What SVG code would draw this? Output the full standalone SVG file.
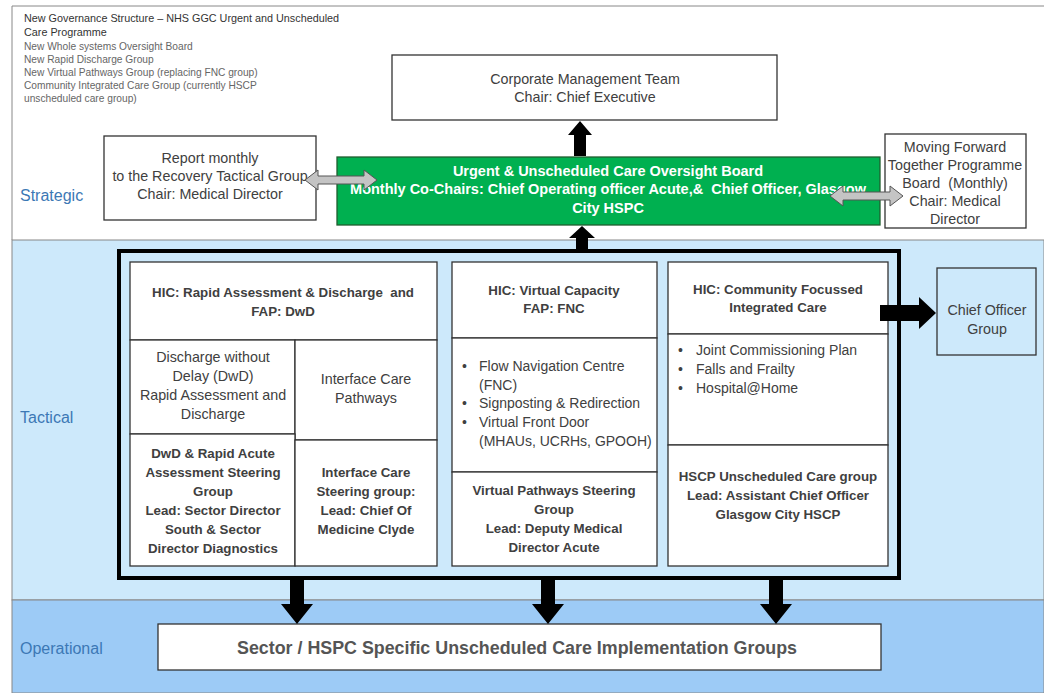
<svg xmlns="http://www.w3.org/2000/svg" width="1044" height="693" viewBox="0 0 1044 693">
<style>
text{font-family:"Liberation Sans",Arial,sans-serif;fill:#404040}
.box{fill:#fff;stroke:#333;stroke-width:1.3}
.t{font-size:14.3px;text-anchor:middle}
.b{font-size:13.3px;font-weight:bold;text-anchor:middle}
.w{font-size:14.5px;font-weight:bold;text-anchor:middle;fill:#fff}
.n{font-size:10.2px;fill:#666}
.n1{font-size:10.8px;fill:#333}
.lab{font-size:16px;fill:#3c78b5}
.li{font-size:14px}
.blk{fill:#000}
.gra{fill:#c4c4c4;stroke:#555;stroke-width:1}
</style>
<rect x="0" y="0" width="1044" height="693" fill="#fff"/>
<rect x="12" y="240" width="1032" height="360" fill="#cde9fb" stroke="#888" stroke-width="1"/>
<rect x="12" y="600" width="1032" height="93" fill="#9dcbf6" stroke="#888" stroke-width="1"/>
<line x1="12" y1="6" x2="12" y2="240" stroke="#888" stroke-width="1"/>
<line x1="12" y1="6" x2="1044" y2="6" stroke="#888" stroke-width="1"/>

<g id="intro">
<text class="n1" x="24" y="22">New Governance Structure – NHS GGC Urgent and Unscheduled</text>
<text class="n1" x="24" y="36">Care Programme</text>
<text class="n" x="24" y="50">New Whole systems Oversight Board</text>
<text class="n" x="24" y="63">New Rapid Discharge Group</text>
<text class="n" x="24" y="76">New Virtual Pathways Group (replacing FNC group)</text>
<text class="n" x="24" y="89">Community Integrated Care Group (currently HSCP</text>
<text class="n" x="24" y="102">unscheduled care group)</text>
</g>

<g id="labels">
<text class="lab" x="20" y="201">Strategic</text>
<text class="lab" x="20" y="423">Tactical</text>
<text class="lab" x="20" y="654">Operational</text>
</g>

<g id="cmt">
<rect class="box" x="392" y="55" width="385" height="65"/>
<text class="t" x="585" y="84">Corporate Management Team</text>
<text class="t" x="585" y="102">Chair: Chief Executive</text>
</g>

<g id="report">
<rect class="box" x="104" y="136" width="212" height="84"/>
<text class="t" x="210" y="163">Report monthly</text>
<text class="t" x="210" y="181">to the Recovery Tactical Group</text>
<text class="t" x="210" y="199">Chair: Medical Director</text>
</g>

<g id="oversight">
<rect x="337" y="157" width="543" height="68" fill="#00b050" stroke="#1f5f2f" stroke-width="1.3"/>
<text class="w" x="608" y="176">Urgent &amp; Unscheduled Care Oversight Board</text>
<text class="w" x="608" y="194" xml:space="preserve">Monthly Co-Chairs: Chief Operating officer Acute,&amp;  Chief Officer, Glasgow</text>
<text class="w" x="608" y="213">City HSPC</text>
</g>

<g id="mft">
<rect class="box" x="885" y="134" width="141" height="94"/>
<text class="t" x="955" y="152">Moving Forward</text>
<text class="t" x="955" y="170">Together Programme</text>
<text class="t" x="955" y="188" xml:space="preserve">Board  (Monthly)</text>
<text class="t" x="955" y="206">Chair: Medical</text>
<text class="t" x="955" y="224">Director</text>
</g>

<g id="frame">
<rect x="119" y="251" width="780" height="327" fill="none" stroke="#000" stroke-width="4"/>
</g>

<g id="col1">
<rect class="box" x="130" y="262" width="307" height="78"/>
<text class="b" x="283" y="297" xml:space="preserve">HIC: Rapid Assessment &amp; Discharge  and</text>
<text class="b" x="283" y="316">FAP: DwD</text>
<rect class="box" x="130" y="340" width="165" height="94"/>
<text class="t" x="213" y="362">Discharge without</text>
<text class="t" x="213" y="381">Delay (DwD)</text>
<text class="t" x="213" y="400">Rapid Assessment and</text>
<text class="t" x="213" y="419">Discharge</text>
<rect class="box" x="295" y="340" width="142" height="100"/>
<text class="t" x="366" y="384">Interface Care</text>
<text class="t" x="366" y="403">Pathways</text>
<rect class="box" x="130" y="434" width="165" height="132" stroke-width="2"/>
<text class="b" x="213" y="458">DwD &amp; Rapid Acute</text>
<text class="b" x="213" y="477">Assessment Steering</text>
<text class="b" x="213" y="496">Group</text>
<text class="b" x="213" y="515">Lead: Sector Director</text>
<text class="b" x="213" y="534">South &amp; Sector</text>
<text class="b" x="213" y="553">Director Diagnostics</text>
<rect class="box" x="295" y="440" width="142" height="126"/>
<text class="b" x="366" y="477">Interface Care</text>
<text class="b" x="366" y="496">Steering group:</text>
<text class="b" x="366" y="515">Lead: Chief Of</text>
<text class="b" x="366" y="534">Medicine Clyde</text>
</g>

<g id="col2">
<rect class="box" x="452" y="262" width="205" height="76"/>
<text class="b" x="554" y="295">HIC: Virtual Capacity</text>
<text class="b" x="554" y="313">FAP: FNC</text>
<rect class="box" x="452" y="338" width="205" height="134"/>
<text class="li" x="462" y="371">•</text>
<text class="li" x="479" y="371">Flow Navigation Centre</text>
<text class="li" x="479" y="390">(FNC)</text>
<text class="li" x="462" y="408">•</text>
<text class="li" x="479" y="408">Signposting &amp; Redirection</text>
<text class="li" x="462" y="427">•</text>
<text class="li" x="479" y="427">Virtual Front Door</text>
<text class="li" x="479" y="446">(MHAUs, UCRHs, GPOOH)</text>
<rect class="box" x="452" y="472" width="205" height="94"/>
<text class="b" x="554" y="495">Virtual Pathways Steering</text>
<text class="b" x="554" y="514">Group</text>
<text class="b" x="554" y="533">Lead: Deputy Medical</text>
<text class="b" x="554" y="552">Director Acute</text>
</g>

<g id="col3">
<rect class="box" x="668" y="262" width="220" height="72"/>
<text class="b" x="778" y="294">HIC: Community Focussed</text>
<text class="b" x="778" y="312">Integrated Care</text>
<rect class="box" x="668" y="334" width="220" height="111"/>
<text class="li" x="678" y="355">•</text>
<text class="li" x="696" y="355">Joint Commissioning Plan</text>
<text class="li" x="678" y="374">•</text>
<text class="li" x="696" y="374">Falls and Frailty</text>
<text class="li" x="678" y="393">•</text>
<text class="li" x="696" y="393">Hospital@Home</text>
<rect class="box" x="668" y="445" width="220" height="121" stroke-width="2"/>
<text class="b" x="778" y="481">HSCP Unscheduled Care group</text>
<text class="b" x="778" y="500">Lead: Assistant Chief Officer</text>
<text class="b" x="778" y="519">Glasgow City HSCP</text>
</g>

<g id="chief">
<rect x="937" y="268" width="99" height="87" fill="#cde9fb" stroke="#333" stroke-width="1.3"/>
<text class="t" x="987" y="315">Chief Officer</text>
<text class="t" x="987" y="334">Group</text>
</g>

<g id="operational">
<rect class="box" x="158" y="624" width="723" height="46"/>
<text x="517" y="654" textLength="560" lengthAdjust="spacingAndGlyphs" style="font-size:17.5px;font-weight:bold;text-anchor:middle;fill:#555">Sector / HSPC Specific Unscheduled Care Implementation Groups</text>
</g>

<g id="connectors">
<polygon class="blk" points="574,156 574,135 568,135 580,121 592,135 586,135 586,156"/>
<polygon class="blk" points="576,251 576,238 569,238 582,226 595,238 588,238 588,251"/>
<polygon class="gra" points="305,180 318,170 318,176 364,176 364,170 377,180 364,190 364,184 318,184 318,190"/>
<polygon class="gra" points="830,196 843,186 843,192 890,192 890,186 903,196 890,206 890,200 843,200 843,206"/>
<polygon class="blk" points="880,305 919,305 919,297 936,313 919,329 919,321 880,321"/>
<polygon class="blk" points="290,580 304,580 304,604 313,604 297,624 281,604 290,604"/>
<polygon class="blk" points="541,580 555,580 555,604 564,604 548,624 532,604 541,604"/>
<polygon class="blk" points="769,580 783,580 783,604 792,604 776,624 760,604 769,604"/>
</g>
</svg>
